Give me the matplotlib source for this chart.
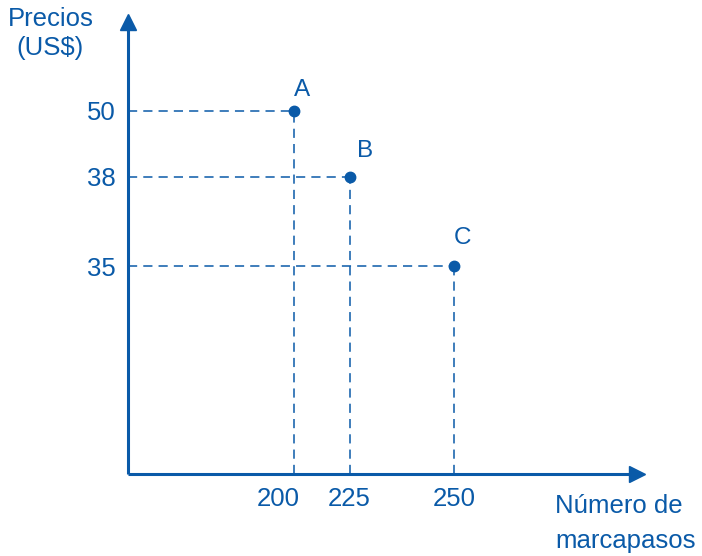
import numpy as np
import matplotlib.pyplot as plt
import matplotlib.transforms as mtransforms

# Puntos A, B, C: cantidad de marcapasos y precio (US$)
labels = ['A', 'B', 'C']
cantidad = [200, 225, 250]
precio = [50, 38, 35]

azul = '#0a5aa8'
plt.rcParams['font.family'] = ['Liberation Sans', 'DejaVu Sans']

# ejes esquemáticos (no a escala): mapeo por tramos
x_val = [0, 200, 225, 250, 300]
x_pix = [0, 165.5, 221.5, 326, 509]
y_val = [0, 35, 38, 50, 60]
y_pix = [0, 208, 297, 363, 452]

def fx(v): return np.interp(v, x_val, x_pix)
def ifx(p): return np.interp(p, x_pix, x_val)
def fy(v): return np.interp(v, y_val, y_pix)
def ify(p): return np.interp(p, y_pix, y_val)

W, H = 702, 556
fig = plt.figure(figsize=(W / 100, H / 100), dpi=100)
ax = fig.add_axes([128 / W, (H - 474) / H, 509 / W, 452 / H])
ax.set_xscale('function', functions=(fx, ifx))
ax.set_yscale('function', functions=(fy, ify))
ax.set_xlim(0, 300)
ax.set_ylim(0, 60)

for s in ['top', 'right']:
    ax.spines[s].set_visible(False)
for s in ['left', 'bottom']:
    ax.spines[s].set_color(azul)
    ax.spines[s].set_linewidth(2.2)
    ax.spines[s].set_capstyle('butt')

# flechas
ax.plot(1, 0, '>', color=azul, ms=12, transform=ax.transAxes, clip_on=False)
ax.plot(0, 1, '^', color=azul, ms=12, transform=ax.transAxes, clip_on=False)

# líneas punteadas guía
for x, y in zip(cantidad, precio):
    ax.plot([0, x], [y, y], color=azul, lw=1.1, ls=(0, (6, 4)))
    ax.plot([x, x], [0, y], color=azul, lw=1.1, ls=(0, (6, 4)))

ax.plot(cantidad, precio, 'o', color=azul, ms=7.5, zorder=3)
offs = [(6, 15), (11, 19), (6, 20)]
for lab, x, y, o in zip(labels, cantidad, precio, offs):
    ax.annotate(lab, (x, y), xytext=o, textcoords='offset points',
                ha='center', va='center', fontsize=17.5, color=azul)

fs = 18.5
ax.set_xticks(cantidad)
ax.set_yticks(precio)
ax.set_xticklabels([str(v) for v in cantidad])
ax.set_yticklabels([str(v) for v in precio])
ax.tick_params(length=0, labelsize=fs, labelcolor=azul)
ax.tick_params(axis='x', pad=9)
ax.tick_params(axis='y', pad=9)
# la etiqueta 200 aparece algo a la izquierda de su línea
lbl = ax.get_xticklabels()[0]
lbl.set_transform(lbl.get_transform() +
                  mtransforms.ScaledTranslation(-0.15, 0, fig.dpi_scale_trans))

fig.text(8 / W, 1 - 19 / H, 'Precios', fontsize=fs, color=azul, va='center')
fig.text(50 / W, 1 - 48 / H, '(US$)', fontsize=fs, color=azul,
         va='center', ha='center')
fig.text(555 / W, 1 - 506 / H, 'Número de', fontsize=fs, color=azul, va='center')
fig.text(555 / W, 1 - 541 / H, 'marcapasos', fontsize=fs, color=azul, va='center')

plt.savefig('out.png', dpi=100)
